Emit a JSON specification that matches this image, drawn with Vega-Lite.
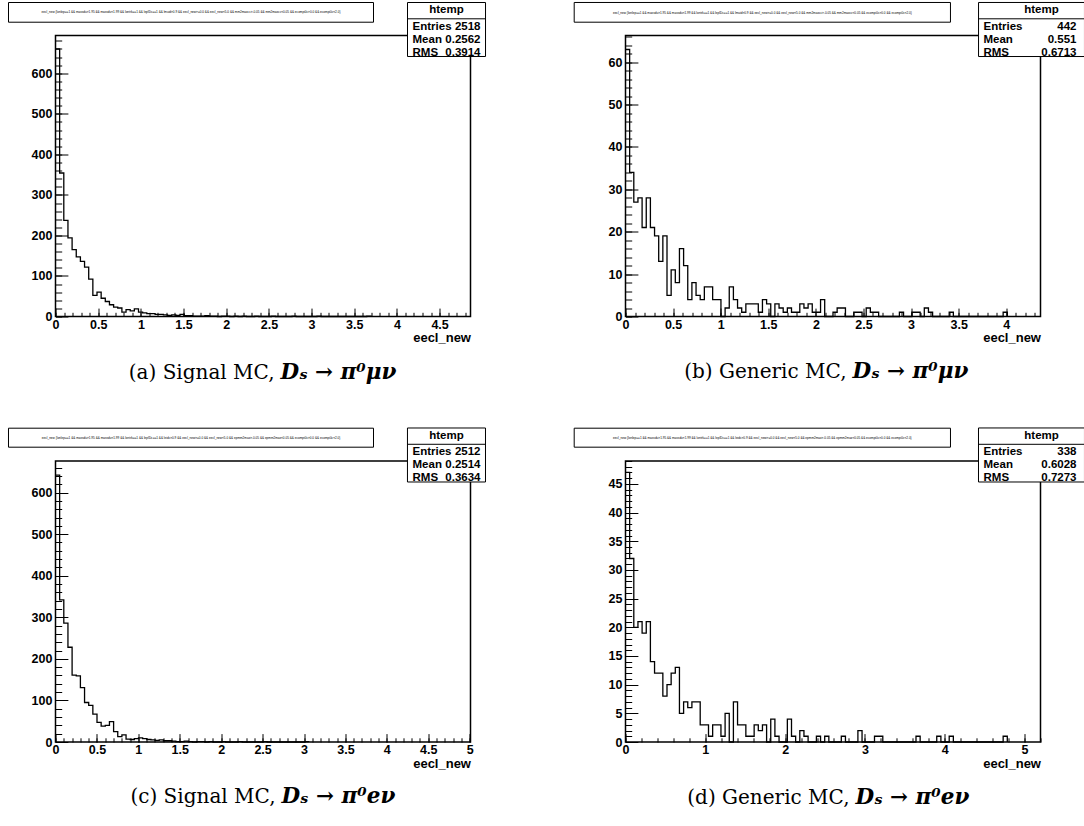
{
  "$schema": "https://vega.github.io/schema/vega-lite/v6.json",
  "background": "white",
  "padding": {"left": 6.5, "top": 0.5, "right": 0, "bottom": 15},
  "bounds": "flush",
  "columns": 2,
  "spacing": {"row": 144.5, "column": 155},
  "config": {
    "view": {"stroke": "black", "strokeWidth": 1.5},
    "mark": {"color": "black"},
    "axis": {"domain": false, "grid": false, "tickColor": "black", "tickWidth": 1, "labelFont": "Liberation Sans", "labelFontWeight": "bold", "labelFontSize": 12.5, "labelColor": "black", "titleFont": "Liberation Sans", "titleFontWeight": "bold", "titleFontSize": 13, "titleColor": "black", "labelFlush": false, "labelOverlap": false}
  },
  "datasets": {
    "histA": [
      {"lo": 0, "n": 660}, {"lo": 0.0486, "n": 354}, {"lo": 0.0972, "n": 237}, {"lo": 0.1459, "n": 194}, {"lo": 0.1945, "n": 165}, {"lo": 0.2431, "n": 147}, {"lo": 0.2917, "n": 136}, {"lo": 0.3403, "n": 122}, {"lo": 0.389, "n": 92}, {"lo": 0.4376, "n": 52}, {"lo": 0.4862, "n": 60}, {"lo": 0.5348, "n": 45}, {"lo": 0.5834, "n": 37}, {"lo": 0.6321, "n": 29}, {"lo": 0.6807, "n": 23}, {"lo": 0.7293, "n": 21}, {"lo": 0.7779, "n": 11}, {"lo": 0.8265, "n": 17}, {"lo": 0.8752, "n": 14}, {"lo": 0.9238, "n": 19}, {"lo": 0.9724, "n": 11}, {"lo": 1.021, "n": 9}, {"lo": 1.0696, "n": 7}, {"lo": 1.1183, "n": 7}, {"lo": 1.1669, "n": 5}, {"lo": 1.2155, "n": 5}, {"lo": 1.2641, "n": 4}, {"lo": 1.3127, "n": 3}, {"lo": 1.3614, "n": 4}, {"lo": 1.41, "n": 3}, {"lo": 1.4586, "n": 5}, {"lo": 1.5072, "n": 2}, {"lo": 1.5558, "n": 2}, {"lo": 1.6045, "n": 1}, {"lo": 1.6531, "n": 1}, {"lo": 1.7017, "n": 1}, {"lo": 1.7503, "n": 2}, {"lo": 1.7989, "n": 1}, {"lo": 1.8476, "n": 1}, {"lo": 1.8962, "n": 0}, {"lo": 1.9448, "n": 1}, {"lo": 1.9934, "n": 1}, {"lo": 2.042, "n": 0}, {"lo": 2.0907, "n": 1}, {"lo": 2.1393, "n": 0}, {"lo": 2.1879, "n": 1}, {"lo": 2.2365, "n": 0}, {"lo": 2.3338, "n": 1}, {"lo": 2.3824, "n": 0}, {"lo": 2.5282, "n": 1}, {"lo": 2.5769, "n": 0}, {"lo": 2.7713, "n": 1}, {"lo": 2.82, "n": 0}, {"lo": 3.0631, "n": 1}, {"lo": 3.1117, "n": 0}, {"lo": 3.6465, "n": 1}, {"lo": 3.6951, "n": 0}
    ],
    "histB": [
      {"lo": 0, "n": 63}, {"lo": 0.0436, "n": 34}, {"lo": 0.0872, "n": 27}, {"lo": 0.1308, "n": 28}, {"lo": 0.1744, "n": 21}, {"lo": 0.218, "n": 28}, {"lo": 0.2616, "n": 21}, {"lo": 0.3052, "n": 19}, {"lo": 0.3488, "n": 13}, {"lo": 0.3924, "n": 19}, {"lo": 0.436, "n": 5}, {"lo": 0.4796, "n": 11}, {"lo": 0.5232, "n": 8}, {"lo": 0.5668, "n": 16}, {"lo": 0.6104, "n": 12}, {"lo": 0.654, "n": 4}, {"lo": 0.6976, "n": 8}, {"lo": 0.7412, "n": 5}, {"lo": 0.7848, "n": 4}, {"lo": 0.8284, "n": 7}, {"lo": 0.872, "n": 7}, {"lo": 0.9156, "n": 4}, {"lo": 0.9592, "n": 4}, {"lo": 1.0028, "n": 0}, {"lo": 1.0464, "n": 2}, {"lo": 1.09, "n": 7}, {"lo": 1.1336, "n": 4}, {"lo": 1.1772, "n": 2}, {"lo": 1.2208, "n": 1}, {"lo": 1.2644, "n": 3}, {"lo": 1.308, "n": 3}, {"lo": 1.3516, "n": 3}, {"lo": 1.3952, "n": 1}, {"lo": 1.4388, "n": 4}, {"lo": 1.4824, "n": 3}, {"lo": 1.526, "n": 0}, {"lo": 1.5696, "n": 3}, {"lo": 1.6132, "n": 2}, {"lo": 1.6568, "n": 1}, {"lo": 1.7004, "n": 2}, {"lo": 1.744, "n": 1}, {"lo": 1.7876, "n": 1}, {"lo": 1.8312, "n": 3}, {"lo": 1.8748, "n": 2}, {"lo": 1.9184, "n": 3}, {"lo": 1.962, "n": 1}, {"lo": 2.0056, "n": 1}, {"lo": 2.0492, "n": 4}, {"lo": 2.0928, "n": 0}, {"lo": 2.18, "n": 1}, {"lo": 2.2236, "n": 2}, {"lo": 2.2672, "n": 2}, {"lo": 2.3108, "n": 0}, {"lo": 2.398, "n": 1}, {"lo": 2.4416, "n": 1}, {"lo": 2.4852, "n": 0}, {"lo": 2.5288, "n": 2}, {"lo": 2.5724, "n": 1}, {"lo": 2.616, "n": 1}, {"lo": 2.6596, "n": 0}, {"lo": 2.8776, "n": 1}, {"lo": 2.9212, "n": 0}, {"lo": 3.0084, "n": 1}, {"lo": 3.052, "n": 1}, {"lo": 3.0956, "n": 0}, {"lo": 3.1392, "n": 2}, {"lo": 3.1828, "n": 1}, {"lo": 3.2264, "n": 0}, {"lo": 3.4008, "n": 1}, {"lo": 3.4444, "n": 0}, {"lo": 3.9676, "n": 1}, {"lo": 4.0112, "n": 0}
    ],
    "histC": [
      {"lo": 0, "n": 642}, {"lo": 0.0501, "n": 342}, {"lo": 0.1002, "n": 286}, {"lo": 0.1503, "n": 228}, {"lo": 0.2004, "n": 161}, {"lo": 0.2505, "n": 159}, {"lo": 0.3006, "n": 131}, {"lo": 0.3507, "n": 95}, {"lo": 0.4008, "n": 88}, {"lo": 0.4509, "n": 67}, {"lo": 0.501, "n": 47}, {"lo": 0.5511, "n": 38}, {"lo": 0.6012, "n": 40}, {"lo": 0.6513, "n": 49}, {"lo": 0.7014, "n": 25}, {"lo": 0.7515, "n": 13}, {"lo": 0.8016, "n": 17}, {"lo": 0.8517, "n": 7}, {"lo": 0.9018, "n": 6}, {"lo": 0.9519, "n": 8}, {"lo": 1.002, "n": 10}, {"lo": 1.0521, "n": 8}, {"lo": 1.1022, "n": 6}, {"lo": 1.1523, "n": 5}, {"lo": 1.2024, "n": 4}, {"lo": 1.2525, "n": 5}, {"lo": 1.3026, "n": 3}, {"lo": 1.3527, "n": 3}, {"lo": 1.4028, "n": 2}, {"lo": 1.4529, "n": 1}, {"lo": 1.503, "n": 1}, {"lo": 1.5531, "n": 2}, {"lo": 1.6032, "n": 1}, {"lo": 1.6533, "n": 0}, {"lo": 1.7034, "n": 1}, {"lo": 1.7535, "n": 1}, {"lo": 1.8036, "n": 0}, {"lo": 1.8537, "n": 1}, {"lo": 1.9038, "n": 0}, {"lo": 2.004, "n": 1}, {"lo": 2.0541, "n": 0}, {"lo": 2.2044, "n": 1}, {"lo": 2.2545, "n": 0}, {"lo": 2.505, "n": 1}, {"lo": 2.5551, "n": 0}, {"lo": 3.006, "n": 1}, {"lo": 3.0561, "n": 0}
    ],
    "histD": [
      {"lo": 0, "n": 47}, {"lo": 0.052, "n": 32}, {"lo": 0.104, "n": 20}, {"lo": 0.156, "n": 21}, {"lo": 0.208, "n": 19}, {"lo": 0.26, "n": 21}, {"lo": 0.312, "n": 14}, {"lo": 0.364, "n": 12}, {"lo": 0.416, "n": 12}, {"lo": 0.468, "n": 8}, {"lo": 0.52, "n": 10}, {"lo": 0.572, "n": 12}, {"lo": 0.624, "n": 13}, {"lo": 0.676, "n": 5}, {"lo": 0.728, "n": 7}, {"lo": 0.78, "n": 6}, {"lo": 0.832, "n": 7}, {"lo": 0.884, "n": 7}, {"lo": 0.936, "n": 3}, {"lo": 0.988, "n": 3}, {"lo": 1.04, "n": 1}, {"lo": 1.092, "n": 3}, {"lo": 1.144, "n": 3}, {"lo": 1.196, "n": 1}, {"lo": 1.248, "n": 5}, {"lo": 1.3, "n": 0}, {"lo": 1.352, "n": 7}, {"lo": 1.404, "n": 3}, {"lo": 1.456, "n": 3}, {"lo": 1.508, "n": 1}, {"lo": 1.56, "n": 1}, {"lo": 1.612, "n": 3}, {"lo": 1.664, "n": 2}, {"lo": 1.716, "n": 3}, {"lo": 1.768, "n": 0}, {"lo": 1.82, "n": 4}, {"lo": 1.872, "n": 1}, {"lo": 1.924, "n": 0}, {"lo": 2.028, "n": 4}, {"lo": 2.08, "n": 1}, {"lo": 2.132, "n": 0}, {"lo": 2.184, "n": 2}, {"lo": 2.236, "n": 1}, {"lo": 2.288, "n": 0}, {"lo": 2.392, "n": 1}, {"lo": 2.444, "n": 0}, {"lo": 2.496, "n": 1}, {"lo": 2.548, "n": 0}, {"lo": 2.704, "n": 1}, {"lo": 2.756, "n": 0}, {"lo": 2.912, "n": 2}, {"lo": 2.964, "n": 0}, {"lo": 3.12, "n": 1}, {"lo": 3.172, "n": 1}, {"lo": 3.224, "n": 0}, {"lo": 3.64, "n": 1}, {"lo": 3.692, "n": 0}, {"lo": 3.9, "n": 1}, {"lo": 3.952, "n": 0}, {"lo": 4.056, "n": 1}, {"lo": 4.108, "n": 0}, {"lo": 4.732, "n": 1}, {"lo": 4.784, "n": 0}
    ]
  },
  "concat": [
    {
      "width": 415, "height": 281,
      "data": {"name": "histA"},
      "resolve": {"axis": {"x": "independent", "y": "independent"}},
      "layer": [
        {"mark": {"type": "line", "interpolate": "step-after", "color": "black", "strokeWidth": 1.3},
         "encoding": {
           "x": {"field": "lo", "type": "quantitative", "scale": {"domain": [0, 4.862], "nice": false, "zero": false},
                 "axis": {"orient": "bottom", "values": [0, 0.5, 1, 1.5, 2, 2.5, 3, 3.5, 4, 4.5], "format": "~g", "tickSize": -8.4, "labelPadding": 10, "title": "eecl_new", "titleAnchor": "end", "titlePadding": 1}},
           "y": {"field": "n", "type": "quantitative", "scale": {"domain": [0, 693.3], "nice": false},
                 "axis": {"orient": "left", "values": [0, 100, 200, 300, 400, 500, 600], "format": "d", "tickSize": -12.4, "labelPadding": 16, "title": null}}}},
        {"mark": {"type": "line", "interpolate": "step-after", "strokeOpacity": 0},
         "encoding": {
           "x": {"field": "lo", "type": "quantitative", "axis": {"orient": "bottom", "tickCount": 50, "labels": false, "tickSize": -4.2, "title": null}},
           "y": {"field": "n", "type": "quantitative", "axis": {"orient": "left", "tickCount": 35, "labels": false, "tickSize": -6.2, "title": null}}}},
        {"data": {"values": [{}]}, "mark": {"type": "rect", "fill": "white", "stroke": "black", "strokeWidth": 1},
         "encoding": {"x": {"datum": -0.5506, "axis": null}, "x2": {"datum": 3.7257}, "y": {"datum": 774.7, "axis": null}, "y2": {"datum": 726.1}}},
        {"data": {"values": [{}]}, "mark": {"type": "text", "font": "Liberation Sans", "fontSize": 3.1, "align": "center", "baseline": "middle"},
         "encoding": {"x": {"datum": 1.5875, "axis": null}, "y": {"datum": 750.6, "axis": null}, "text": {"value": "eecl_new {lonlep==1 && massdu>1.95 && massdu<1.99 && lontrk==1 && lepIDc==1 && lmuid>0.9 && eecl_new>=0.0 && eecl_new<5.0 && mm2maxcc>-0.05 && mm2maxcc<0.05 && ecompi0c>0.0 && ecompi0c<2.0}"}}},
        {"data": {"values": [{}]}, "mark": {"type": "rect", "fill": "white", "stroke": "black", "strokeWidth": 1},
         "encoding": {"x": {"datum": 4.124, "axis": null}, "x2": {"datum": 5.038}, "y": {"datum": 774.7, "axis": null}, "y2": {"datum": 641.5}}},
        {"data": {"values": [{}]}, "mark": {"type": "rule", "strokeWidth": 1},
         "encoding": {"x": {"datum": 4.124, "axis": null}, "x2": {"datum": 5.038}, "y": {"datum": 734.5, "axis": null}}},
        {"data": {"values": [{}]}, "mark": {"type": "text", "font": "Liberation Sans", "fontWeight": "bold", "fontSize": 11.5, "align": "center", "baseline": "middle"},
         "encoding": {"x": {"datum": 4.581, "axis": null}, "y": {"datum": 755.0, "axis": null}, "text": {"value": "htemp"}}},
        {"data": {"values": [{}]}, "mark": {"type": "text", "font": "Liberation Sans", "fontWeight": "bold", "fontSize": 11.5, "align": "left", "baseline": "middle", "lineHeight": 13},
         "encoding": {"x": {"datum": 4.183, "axis": null}, "y": {"datum": 715.5, "axis": null}, "text": {"value": ["Entries", "Mean", "RMS"]}}},
        {"data": {"values": [{}]}, "mark": {"type": "text", "font": "Liberation Sans", "fontWeight": "bold", "fontSize": 11.5, "align": "right", "baseline": "middle", "lineHeight": 13},
         "encoding": {"x": {"datum": 4.979, "axis": null}, "y": {"datum": 715.5, "axis": null}, "text": {"value": ["2518", "0.2562", "0.3914"]}}},
        {"data": {"values": [{}]}, "mark": {"type": "text", "font": "DejaVu Serif", "fontSize": 20, "align": "right", "baseline": "middle"},
         "encoding": {"x": {"datum": 2.566, "axis": null}, "y": {"datum": -138.2, "axis": null}, "text": {"value": "(a) Signal MC,"}}},
        {"data": {"values": [{}]}, "mark": {"type": "text", "font": "DejaVu Serif", "fontSize": 21.5, "fontWeight": "bold", "fontStyle": "italic", "align": "left", "baseline": "middle"},
         "encoding": {"x": {"datum": 2.636, "axis": null}, "y": {"datum": -138.2, "axis": null}, "text": {"value": "Dₛ → π⁰μν"}}}
      ]
    },
    {
      "width": 415, "height": 281,
      "data": {"name": "histB"},
      "resolve": {"axis": {"x": "independent", "y": "independent"}},
      "layer": [
        {"mark": {"type": "line", "interpolate": "step-after", "color": "black", "strokeWidth": 1.3},
         "encoding": {
           "x": {"field": "lo", "type": "quantitative", "scale": {"domain": [0, 4.36], "nice": false, "zero": false},
                 "axis": {"orient": "bottom", "values": [0, 0.5, 1, 1.5, 2, 2.5, 3, 3.5, 4], "format": "~g", "tickSize": -8.4, "labelPadding": 10, "title": "eecl_new", "titleAnchor": "end", "titlePadding": 1}},
           "y": {"field": "n", "type": "quantitative", "scale": {"domain": [0, 66.3], "nice": false},
                 "axis": {"orient": "left", "values": [0, 10, 20, 30, 40, 50, 60], "format": "d", "tickSize": -12.4, "labelPadding": 16, "title": null}}}},
        {"mark": {"type": "line", "interpolate": "step-after", "strokeOpacity": 0},
         "encoding": {
           "x": {"field": "lo", "type": "quantitative", "axis": {"orient": "bottom", "tickCount": 44, "labels": false, "tickSize": -4.2, "title": null}},
           "y": {"field": "n", "type": "quantitative", "axis": {"orient": "left", "tickCount": 33, "labels": false, "tickSize": -6.2, "title": null}}}},
        {"data": {"values": [{}]}, "mark": {"type": "rect", "fill": "white", "stroke": "black", "strokeWidth": 1},
         "encoding": {"x": {"datum": -0.539, "axis": null}, "x2": {"datum": 3.414}, "y": {"datum": 74.09, "axis": null}, "y2": {"datum": 69.44}}},
        {"data": {"values": [{}]}, "mark": {"type": "text", "font": "Liberation Sans", "fontSize": 3.1, "align": "center", "baseline": "middle"},
         "encoding": {"x": {"datum": 1.438, "axis": null}, "y": {"datum": 71.77, "axis": null}, "text": {"value": "eecl_new {lonlep==1 && massdu>1.95 && massdu<1.99 && lontrk==1 && lepIDc==1 && lmuid>0.9 && eecl_new>=0.0 && eecl_new<5.0 && mm2maxcc>-0.05 && mm2maxcc<0.05 && ecompi0c>0.0 && ecompi0c<2.0}"}}},
        {"data": {"values": [{}]}, "mark": {"type": "rect", "fill": "white", "stroke": "black", "strokeWidth": 1},
         "encoding": {"x": {"datum": 3.709, "axis": null}, "x2": {"datum": 4.822}, "y": {"datum": 74.09, "axis": null}, "y2": {"datum": 61.34}}},
        {"data": {"values": [{}]}, "mark": {"type": "rule", "strokeWidth": 1},
         "encoding": {"x": {"datum": 3.709, "axis": null}, "x2": {"datum": 4.822}, "y": {"datum": 70.24, "axis": null}}},
        {"data": {"values": [{}]}, "mark": {"type": "text", "font": "Liberation Sans", "fontWeight": "bold", "fontSize": 11.5, "align": "center", "baseline": "middle"},
         "encoding": {"x": {"datum": 4.37, "axis": null}, "y": {"datum": 72.2, "axis": null}, "text": {"value": "htemp"}}},
        {"data": {"values": [{}]}, "mark": {"type": "text", "font": "Liberation Sans", "fontWeight": "bold", "fontSize": 11.5, "align": "left", "baseline": "middle", "lineHeight": 13},
         "encoding": {"x": {"datum": 3.761, "axis": null}, "y": {"datum": 68.42, "axis": null}, "text": {"value": ["Entries", "Mean", "RMS"]}}},
        {"data": {"values": [{}]}, "mark": {"type": "text", "font": "Liberation Sans", "fontWeight": "bold", "fontSize": 11.5, "align": "right", "baseline": "middle", "lineHeight": 13},
         "encoding": {"x": {"datum": 4.738, "axis": null}, "y": {"datum": 68.42, "axis": null}, "text": {"value": ["442", "0.551", "0.6713"]}}},
        {"data": {"values": [{}]}, "mark": {"type": "text", "font": "DejaVu Serif", "fontSize": 20, "align": "right", "baseline": "middle"},
         "encoding": {"x": {"datum": 2.322, "axis": null}, "y": {"datum": -13.21, "axis": null}, "text": {"value": "(b) Generic MC,"}}},
        {"data": {"values": [{}]}, "mark": {"type": "text", "font": "DejaVu Serif", "fontSize": 21.5, "fontWeight": "bold", "fontStyle": "italic", "align": "left", "baseline": "middle"},
         "encoding": {"x": {"datum": 2.385, "axis": null}, "y": {"datum": -13.21, "axis": null}, "text": {"value": "Dₛ → π⁰μν"}}}
      ]
    },
    {
      "width": 415, "height": 281,
      "data": {"name": "histC"},
      "resolve": {"axis": {"x": "independent", "y": "independent"}},
      "layer": [
        {"mark": {"type": "line", "interpolate": "step-after", "color": "black", "strokeWidth": 1.3},
         "encoding": {
           "x": {"field": "lo", "type": "quantitative", "scale": {"domain": [0, 5.01], "nice": false, "zero": false},
                 "axis": {"orient": "bottom", "values": [0, 0.5, 1, 1.5, 2, 2.5, 3, 3.5, 4, 4.5, 5], "format": "~g", "tickSize": -8.4, "labelPadding": 10, "title": "eecl_new", "titleAnchor": "end", "titlePadding": 1}},
           "y": {"field": "n", "type": "quantitative", "scale": {"domain": [0, 676], "nice": false},
                 "axis": {"orient": "left", "values": [0, 100, 200, 300, 400, 500, 600], "format": "d", "tickSize": -12.4, "labelPadding": 16, "title": null}}}},
        {"mark": {"type": "line", "interpolate": "step-after", "strokeOpacity": 0},
         "encoding": {
           "x": {"field": "lo", "type": "quantitative", "axis": {"orient": "bottom", "tickCount": 50, "labels": false, "tickSize": -4.2, "title": null}},
           "y": {"field": "n", "type": "quantitative", "axis": {"orient": "left", "tickCount": 34, "labels": false, "tickSize": -6.2, "title": null}}}},
        {"data": {"values": [{}]}, "mark": {"type": "rect", "fill": "white", "stroke": "black", "strokeWidth": 1},
         "encoding": {"x": {"datum": -0.5674, "axis": null}, "x2": {"datum": 3.839}, "y": {"datum": 754.9, "axis": null}, "y2": {"datum": 709.2}}},
        {"data": {"values": [{}]}, "mark": {"type": "text", "font": "Liberation Sans", "fontSize": 3.1, "align": "center", "baseline": "middle"},
         "encoding": {"x": {"datum": 1.636, "axis": null}, "y": {"datum": 732.1, "axis": null}, "text": {"value": "eecl_new {lonlep==1 && massdu>1.95 && massdu<1.99 && lontrk==1 && lepIDc==1 && leidc>0.9 && eecl_new>=0.0 && eecl_new<5.0 && epmm2max>-0.05 && epmm2max<0.05 && ecompi0c>0.0 && ecompi0c<2.0}"}}},
        {"data": {"values": [{}]}, "mark": {"type": "rect", "fill": "white", "stroke": "black", "strokeWidth": 1},
         "encoding": {"x": {"datum": 4.249, "axis": null}, "x2": {"datum": 5.191}, "y": {"datum": 755.4, "axis": null}, "y2": {"datum": 625.5}}},
        {"data": {"values": [{}]}, "mark": {"type": "rule", "strokeWidth": 1},
         "encoding": {"x": {"datum": 4.249, "axis": null}, "x2": {"datum": 5.191}, "y": {"datum": 716.2, "axis": null}}},
        {"data": {"values": [{}]}, "mark": {"type": "text", "font": "Liberation Sans", "fontWeight": "bold", "fontSize": 11.5, "align": "center", "baseline": "middle"},
         "encoding": {"x": {"datum": 4.72, "axis": null}, "y": {"datum": 736.1, "axis": null}, "text": {"value": "htemp"}}},
        {"data": {"values": [{}]}, "mark": {"type": "text", "font": "Liberation Sans", "fontWeight": "bold", "fontSize": 11.5, "align": "left", "baseline": "middle", "lineHeight": 13},
         "encoding": {"x": {"datum": 4.31, "axis": null}, "y": {"datum": 697.7, "axis": null}, "text": {"value": ["Entries", "Mean", "RMS"]}}},
        {"data": {"values": [{}]}, "mark": {"type": "text", "font": "Liberation Sans", "fontWeight": "bold", "fontSize": 11.5, "align": "right", "baseline": "middle", "lineHeight": 13},
         "encoding": {"x": {"datum": 5.131, "axis": null}, "y": {"datum": 697.7, "axis": null}, "text": {"value": ["2512", "0.2514", "0.3634"]}}},
        {"data": {"values": [{}]}, "mark": {"type": "text", "font": "DejaVu Serif", "fontSize": 20, "align": "right", "baseline": "middle"},
         "encoding": {"x": {"datum": 2.656, "axis": null}, "y": {"datum": -133.5, "axis": null}, "text": {"value": "(c) Signal MC,"}}},
        {"data": {"values": [{}]}, "mark": {"type": "text", "font": "DejaVu Serif", "fontSize": 21.5, "fontWeight": "bold", "fontStyle": "italic", "align": "left", "baseline": "middle"},
         "encoding": {"x": {"datum": 2.728, "axis": null}, "y": {"datum": -133.5, "axis": null}, "text": {"value": "Dₛ → π⁰eν"}}}
      ]
    },
    {
      "width": 415, "height": 281,
      "data": {"name": "histD"},
      "resolve": {"axis": {"x": "independent", "y": "independent"}},
      "layer": [
        {"mark": {"type": "line", "interpolate": "step-after", "color": "black", "strokeWidth": 1.3},
         "encoding": {
           "x": {"field": "lo", "type": "quantitative", "scale": {"domain": [0, 5.2], "nice": false, "zero": false},
                 "axis": {"orient": "bottom", "values": [0, 1, 2, 3, 4, 5], "format": "~g", "tickSize": -8.4, "labelPadding": 10, "title": "eecl_new", "titleAnchor": "end", "titlePadding": 1}},
           "y": {"field": "n", "type": "quantitative", "scale": {"domain": [0, 49], "nice": false},
                 "axis": {"orient": "left", "values": [0, 5, 10, 15, 20, 25, 30, 35, 40, 45], "format": "d", "tickSize": -12.4, "labelPadding": 16, "title": null}}}},
        {"mark": {"type": "line", "interpolate": "step-after", "strokeOpacity": 0},
         "encoding": {
           "x": {"field": "lo", "type": "quantitative", "axis": {"orient": "bottom", "tickCount": 26, "labels": false, "tickSize": -4.2, "title": null}},
           "y": {"field": "n", "type": "quantitative", "axis": {"orient": "left", "tickCount": 49, "labels": false, "tickSize": -6.2, "title": null}}}},
        {"data": {"values": [{}]}, "mark": {"type": "rect", "fill": "white", "stroke": "black", "strokeWidth": 1},
         "encoding": {"x": {"datum": -0.6428, "axis": null}, "x2": {"datum": 4.072}, "y": {"datum": 54.72, "axis": null}, "y2": {"datum": 51.41}}},
        {"data": {"values": [{}]}, "mark": {"type": "text", "font": "Liberation Sans", "fontSize": 3.1, "align": "center", "baseline": "middle"},
         "encoding": {"x": {"datum": 1.715, "axis": null}, "y": {"datum": 53.06, "axis": null}, "text": {"value": "eecl_new {lonlep==1 && massdu>1.95 && massdu<1.99 && lontrk==1 && lepIDc==1 && leidc>0.9 && eecl_new>=0.0 && eecl_new<5.0 && epmm2max>-0.05 && epmm2max<0.05 && ecompi0c>0.0 && ecompi0c<2.0}"}}},
        {"data": {"values": [{}]}, "mark": {"type": "rect", "fill": "white", "stroke": "black", "strokeWidth": 1},
         "encoding": {"x": {"datum": 4.423, "axis": null}, "x2": {"datum": 5.751}, "y": {"datum": 54.76, "axis": null}, "y2": {"datum": 45.34}}},
        {"data": {"values": [{}]}, "mark": {"type": "rule", "strokeWidth": 1},
         "encoding": {"x": {"datum": 4.423, "axis": null}, "x2": {"datum": 5.751}, "y": {"datum": 51.91, "axis": null}}},
        {"data": {"values": [{}]}, "mark": {"type": "text", "font": "Liberation Sans", "fontWeight": "bold", "fontSize": 11.5, "align": "center", "baseline": "middle"},
         "encoding": {"x": {"datum": 5.213, "axis": null}, "y": {"datum": 53.36, "axis": null}, "text": {"value": "htemp"}}},
        {"data": {"values": [{}]}, "mark": {"type": "text", "font": "Liberation Sans", "fontWeight": "bold", "fontSize": 11.5, "align": "left", "baseline": "middle", "lineHeight": 13},
         "encoding": {"x": {"datum": 4.486, "axis": null}, "y": {"datum": 50.57, "axis": null}, "text": {"value": ["Entries", "Mean", "RMS"]}}},
        {"data": {"values": [{}]}, "mark": {"type": "text", "font": "Liberation Sans", "fontWeight": "bold", "fontSize": 11.5, "align": "right", "baseline": "middle", "lineHeight": 13},
         "encoding": {"x": {"datum": 5.651, "axis": null}, "y": {"datum": 50.57, "axis": null}, "text": {"value": ["338", "0.6028", "0.7273"]}}},
        {"data": {"values": [{}]}, "mark": {"type": "text", "font": "DejaVu Serif", "fontSize": 20, "align": "right", "baseline": "middle"},
         "encoding": {"x": {"datum": 2.807, "axis": null}, "y": {"datum": -9.678, "axis": null}, "text": {"value": "(d) Generic MC,"}}},
        {"data": {"values": [{}]}, "mark": {"type": "text", "font": "DejaVu Serif", "fontSize": 21.5, "fontWeight": "bold", "fontStyle": "italic", "align": "left", "baseline": "middle"},
         "encoding": {"x": {"datum": 2.882, "axis": null}, "y": {"datum": -9.678, "axis": null}, "text": {"value": "Dₛ → π⁰eν"}}}
      ]
    }
  ]
}
